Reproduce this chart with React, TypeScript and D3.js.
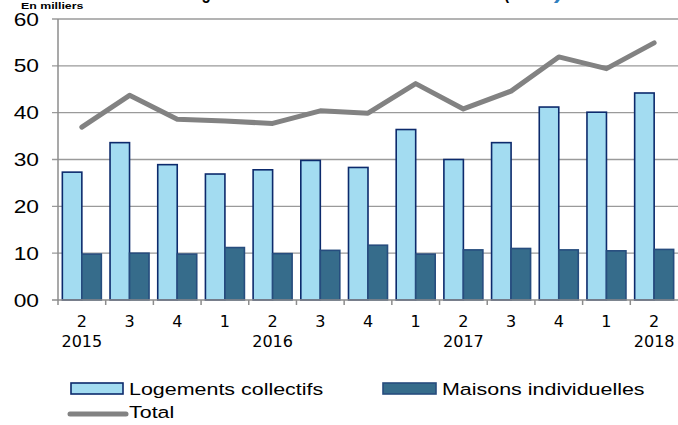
import React, { useRef, useEffect } from 'react';
import * as d3 from 'd3';

// quarters and year labels
const quarters = ['2', '3', '4', '1', '2', '3', '4', '1', '2', '3', '4', '1', '2'];
const years = ['2015', '', '', '', '2016', '', '', '', '2017', '', '', '', '2018'];
const collectifs = [27.3, 33.6, 28.9, 26.9, 27.8, 29.8, 28.3, 36.4, 30.0, 33.6, 41.2, 40.1, 44.2];
const individuelles = [9.8, 10.0, 9.8, 11.2, 9.9, 10.6, 11.7, 9.8, 10.7, 11.0, 10.7, 10.5, 10.8];
const total = [36.9, 43.7, 38.6, 38.2, 37.7, 40.4, 39.9, 46.2, 40.8, 44.6, 51.9, 49.4, 54.9];
const yTicks = [0, 10, 20, 30, 40, 50, 60];

const ARIAL = 'Liberation Sans, Arial, sans-serif';
const STRETCH = 1.3; // the original chart is stretched horizontally

const App = () => {
    const chartRef = useRef<SVGSVGElement>(null);

    useEffect(() => {
        const svg = d3.select(chartRef.current);
        svg.selectAll('*').remove();

        const left = 58, right = 678, top = 19, bottom = 300;
        const ids = quarters.map((_, i) => String(i));

        const x = d3.scaleBand().domain(ids).range([left, right]);
        const x1 = d3.scaleBand().domain(['c', 'm']).range([0, x.bandwidth()]).paddingOuter(0.223);
        const y = d3.scaleLinear().domain([0, 60]).range([bottom, top]);

        // stretched text helper
        const stext = (sel: any, tx: number, ty: number, size: number, str: string, anchor = 'start', bold = false) =>
            sel.append('text')
                .attr('transform', `translate(${tx},${ty}) scale(${STRETCH},1)`)
                .attr('text-anchor', anchor)
                .style('font-family', ARIAL)
                .style('font-size', size + 'px')
                .style('font-weight', bold ? 'bold' : 'normal')
                .text(str);

        // title (mostly cut off at the top)
        svg.append('text')
            .attr('x', 183).attr('y', -1)
            .attr('textLength', 326).attr('lengthAdjust', 'spacingAndGlyphs')
            .style('font-family', ARIAL)
            .style('font-size', '18px').style('font-weight', 'bold')
            .text('Logements mis en chantier en Île-de-France (');
        svg.append('text')
            .attr('x', 512).attr('y', -1)
            .attr('textLength', 50).attr('lengthAdjust', 'spacingAndGlyphs')
            .attr('fill', '#2f7fbf')
            .style('font-family', ARIAL)
            .style('font-size', '18px').style('font-weight', 'bold')
            .text('cvs)');

        stext(svg, 21, 9, 9.5, 'En milliers', 'start', true);

        // gridlines + y labels
        svg.append('g').selectAll('line')
            .data(yTicks.filter((d) => d > 0))
            .enter().append('line')
            .attr('x1', 52).attr('x2', right)
            .attr('y1', (d) => y(d)).attr('y2', (d) => y(d))
            .attr('stroke', '#9a9a9a').attr('stroke-width', 1.3);

        const yl = svg.append('g');
        yTicks.forEach((d) => stext(yl, 39, y(d) + 6.5, 17.5, d === 0 ? '00' : String(d), 'end'));

        // bars
        const g = svg.append('g');
        g.selectAll('rect.c')
            .data(collectifs)
            .enter().append('rect')
            .attr('class', 'c')
            .attr('x', (d, i) => x(ids[i])! + x1('c')!)
            .attr('y', (d) => y(d))
            .attr('width', x1.bandwidth())
            .attr('height', (d) => bottom - y(d))
            .attr('fill', '#a3dcf1')
            .attr('stroke', '#0c2a6c').attr('stroke-width', 1.6);

        g.selectAll('rect.m')
            .data(individuelles)
            .enter().append('rect')
            .attr('class', 'm')
            .attr('x', (d, i) => x(ids[i])! + x1('m')!)
            .attr('y', (d) => y(d))
            .attr('width', x1.bandwidth())
            .attr('height', (d) => bottom - y(d))
            .attr('fill', '#366c8b')
            .attr('stroke', '#274d7e').attr('stroke-width', 1.6);

        // axes lines
        svg.append('line')
            .attr('x1', left).attr('x2', left).attr('y1', top).attr('y2', bottom + 5)
            .attr('stroke', '#8c8c8c').attr('stroke-width', 1.5);
        svg.append('line')
            .attr('x1', 52).attr('x2', right).attr('y1', bottom).attr('y2', bottom)
            .attr('stroke', '#8c8c8c').attr('stroke-width', 1.5);
        svg.append('g').selectAll('line')
            .data(ids.slice(1))
            .enter().append('line')
            .attr('x1', (d) => x(d)!).attr('x2', (d) => x(d)!)
            .attr('y1', bottom).attr('y2', bottom + 5)
            .attr('stroke', '#8c8c8c').attr('stroke-width', 1.5);

        // total line
        const line = d3.line<number>()
            .x((d, i) => x(ids[i])! + x.bandwidth() / 2)
            .y((d) => y(d));
        svg.append('path')
            .datum(total)
            .attr('d', line)
            .attr('fill', 'none')
            .attr('stroke', '#828282').attr('stroke-width', 5)
            .attr('stroke-linecap', 'round').attr('stroke-linejoin', 'round');

        // x labels
        const xl = svg.append('g')
            .style('font-family', 'DejaVu Sans, Verdana, sans-serif')
            .style('font-size', '16px')
            .attr('text-anchor', 'middle');
        xl.selectAll('text.q')
            .data(quarters)
            .enter().append('text')
            .attr('class', 'q')
            .attr('x', (d, i) => x(ids[i])! + x.bandwidth() / 2)
            .attr('y', 327)
            .text((d) => d);
        xl.selectAll('text.yr')
            .data(years)
            .enter().append('text')
            .attr('class', 'yr')
            .attr('x', (d, i) => x(ids[i])! + x.bandwidth() / 2)
            .attr('y', 347)
            .text((d) => d);

        // legend
        const lg = svg.append('g');
        lg.append('rect').attr('x', 71).attr('y', 383).attr('width', 52).attr('height', 11)
            .attr('fill', '#a3dcf1').attr('stroke', '#0c2a6c').attr('stroke-width', 1.6);
        stext(lg, 129, 395, 16.5, 'Logements collectifs');
        lg.append('rect').attr('x', 383).attr('y', 383).attr('width', 53).attr('height', 11)
            .attr('fill', '#366c8b').attr('stroke', '#274d7e').attr('stroke-width', 1.6);
        stext(lg, 442, 395, 16.5, 'Maisons individuelles');
        lg.append('line').attr('x1', 70).attr('x2', 126).attr('y1', 414).attr('y2', 414)
            .attr('stroke', '#828282').attr('stroke-width', 5).attr('stroke-linecap', 'round');
        stext(lg, 129, 418, 16.5, 'Total');
    }, []);

    return (
        <svg
            ref={chartRef}
            width={678}
            height={425}
            style={{ position: 'absolute', left: 0, top: 0, background: '#fff' }}
        ></svg>
    );
};

export default App;
